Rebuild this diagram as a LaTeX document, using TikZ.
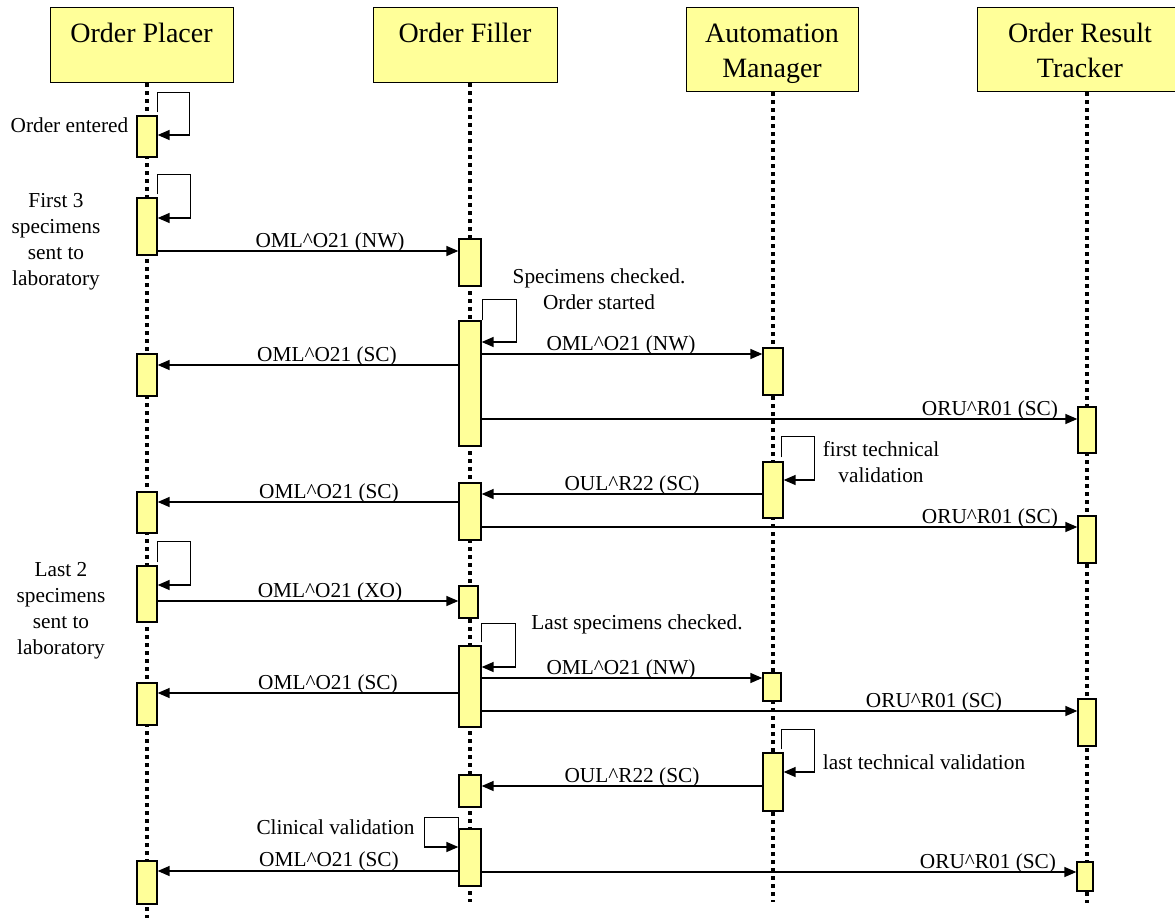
\documentclass[tikz,border=0pt]{standalone}
\usepackage{fontspec}
\setmainfont{Liberation Serif}
\usetikzlibrary{arrows.meta}
\definecolor{yel}{HTML}{FFFF99}
\begin{document}
\begin{tikzpicture}[x=1pt,y=-1pt,
  hdr/.style={draw=black, line width=1.3pt, fill=yel, inner sep=0pt, anchor=north west},
  hdrtext/.style={font=\fontsize{28pt}{35pt}\selectfont, align=center, anchor=base, inner sep=0pt},
  act/.style={draw=black, line width=1.3pt, fill=yel, inner sep=0pt, minimum width=20pt},
  life/.style={line width=3.5pt, dash pattern=on 4pt off 4pt},
  msg/.style={line width=1.4pt, -{Triangle[length=12pt,width=10pt]}},
  lbl/.style={font=\fontsize{21.3pt}{26pt}\selectfont, align=center, anchor=base, inner sep=0pt}
]
\useasboundingbox (0,0) rectangle (1175,918);

% headers
\node[hdr, minimum width=183pt, minimum height=75pt] (op) at (50,7) {};
\node[hdrtext] (opt) at (141.5,42) {Order Placer};
\node[hdr, minimum width=184pt, minimum height=75pt] (of) at (373,7) {};
\node[hdrtext] (oft) at (465,42) {Order Filler};
\node[hdr, minimum width=172pt, minimum height=84pt] (am) at (686,7) {};
\node[hdrtext] (amt) at (772,77) {Automation\\Manager};
\node[hdr, minimum width=206pt, minimum height=84pt] (ort) at (977,7) {};
\node[hdrtext] (ortt) at (1080,77) {Order Result\\Tracker};

% lifeline anchors
\coordinate (pl) at (147,918);
\coordinate (fl) at (470,902);
\coordinate (ml) at (773,902);
\coordinate (rl) at (1087,903);
\draw[life] (op.south -| pl) -- (pl);
\draw[life] (of.south -| fl) -- (fl);
\draw[life] (am.south -| ml) -- (ml);
\draw[life] (ort.south -| rl) -- (rl);

% activation boxes: Order Placer
\node[act, minimum height=41pt] (p1) at (147,136.5) {};
\node[act, minimum height=57pt] (p2) at (147,226.5) {};
\node[act, minimum height=42pt] (p3) at (147,375) {};
\node[act, minimum height=41pt] (p4) at (147,512.5) {};
\node[act, minimum height=56pt] (p5) at (147,594) {};
\node[act, minimum height=42pt] (p6) at (147,704) {};
\node[act, minimum height=43pt] (p7) at (147,882.5) {};
% Order Filler
\node[act, minimum width=22pt, minimum height=47pt] (f1) at (470,262.5) {};
\node[act, minimum width=22pt, minimum height=125pt] (f2) at (470,383.5) {};
\node[act, minimum width=22pt, minimum height=57pt] (f3) at (470,511.5) {};
\node[act, minimum width=19pt, minimum height=32pt] (f4) at (468.5,602) {};
\node[act, minimum width=22pt, minimum height=81pt] (f5) at (470,686.5) {};
\node[act, minimum width=22pt, minimum height=32pt] (f6) at (470,791) {};
\node[act, minimum width=22pt, minimum height=57pt] (f7) at (470,857.5) {};
% Automation Manager
\node[act, minimum height=47pt] (m1) at (773,371.5) {};
\node[act, minimum height=56pt] (m2) at (773,490) {};
\node[act, minimum width=18pt, minimum height=28pt] (m3) at (772,687) {};
\node[act, minimum height=58pt] (m4) at (773,782) {};
% Order Result Tracker
\node[act, minimum width=18pt, minimum height=46pt] (r1) at (1087,430) {};
\node[act, minimum width=18pt, minimum height=47pt] (r2) at (1087,539.5) {};
\node[act, minimum width=18pt, minimum height=47pt] (r3) at (1087,722.5) {};
\node[act, minimum width=16pt, minimum height=29pt] (r4) at (1085,876.5) {};

% self messages
\draw[msg] ([yshift=3pt]p1.north east) -- ++(0,-20) -- ++(32,0) |- (p1.east |- 0,135);
\draw[msg] ([yshift=3pt]p2.north east) -- ++(0,-20) -- ++(33,0) |- (p2.east |- 0,218);
\draw[msg] ([xshift=1pt]f2.north east) -- ++(0,-21) -- ++(34,0) |- (f2.east |- 0,342);
\draw[msg] ([xshift=-2pt,yshift=4pt]m2.north east) -- ++(0,-21) -- ++(33,0) |- (m2.east |- 0,480);
\draw[msg] ([yshift=3pt]p5.north east) -- ++(0,-21) -- ++(33,0) |- (p5.east |- 0,585);
\draw[msg] ([yshift=3pt]f5.north east) -- ++(0,-19) -- ++(34,0) |- (f5.east |- 0,667);
\draw[msg] ([xshift=-2pt,yshift=3pt]m4.north east) -- ++(0,-20) -- ++(33,0) |- (m4.east |- 0,772);
\draw[msg] (f7.north west) -- ++(0,-11) -- ++(-34,0) |- (f7.west |- 0,847);

% messages
\draw[msg] (p2.east |- 0,251) -- (f1.west |- 0,251);
\draw[msg] (f2.east |- 0,354) -- (m1.west |- 0,354);
\draw[msg] (f2.west |- 0,365) -- (p3.east |- 0,365);
\draw[msg] (f2.east |- 0,419) -- (r1.west |- 0,419);
\draw[msg] (m2.west |- 0,494) -- (f3.east |- 0,494);
\draw[msg] (f3.west |- 0,502) -- (p4.east |- 0,502);
\draw[msg] (f3.east |- 0,527) -- (r2.west |- 0,527);
\draw[msg] (p5.east |- 0,601) -- (f4.west |- 0,601);
\draw[msg] (f5.east |- 0,678) -- (m3.west |- 0,678);
\draw[msg] (f5.west |- 0,693) -- (p6.east |- 0,693);
\draw[msg] (f5.east |- 0,711) -- (r3.west |- 0,711);
\draw[msg] (m4.west |- 0,786) -- (f6.east |- 0,786);
\draw[msg] (f7.west |- 0,871) -- (p7.east |- 0,871);
\draw[msg] (f7.east |- 0,872) -- (r4.west |- 0,872);

% message labels
\node[lbl] (l1) at (330,247) {OML\textasciicircum O21 (NW)};
\node[lbl] (l2) at (621,350) {OML\textasciicircum O21 (NW)};
\node[lbl] (l3) at (327,361) {OML\textasciicircum O21 (SC)};
\node[lbl] (l4) at (990,415) {ORU\textasciicircum R01 (SC)};
\node[lbl] (l5) at (632,490) {OUL\textasciicircum R22 (SC)};
\node[lbl] (l6) at (329,498) {OML\textasciicircum O21 (SC)};
\node[lbl] (l7) at (990,523) {ORU\textasciicircum R01 (SC)};
\node[lbl] (l8) at (330,597) {OML\textasciicircum O21 (XO)};
\node[lbl] (l9) at (621,674) {OML\textasciicircum O21 (NW)};
\node[lbl] (l10) at (328,689) {OML\textasciicircum O21 (SC)};
\node[lbl] (l11) at (934,707) {ORU\textasciicircum R01 (SC)};
\node[lbl] (l12) at (632,782) {OUL\textasciicircum R22 (SC)};
\node[lbl] (l13) at (329,866) {OML\textasciicircum O21 (SC)};
\node[lbl] (l14) at (988,868) {ORU\textasciicircum R01 (SC)};

% notes (anchor=base is the last line's baseline)
\node[lbl] (n1) at (69.5,132) {Order entered};
\node[lbl] (n2) at (56,285) {First 3\\specimens\\sent to\\laboratory};
\node[lbl] (n3) at (599,309) {Specimens checked.\\Order started};
\node[lbl] (n4) at (881,482) {first technical\\validation};
\node[lbl] (n5) at (61,654) {Last 2\\specimens\\sent to\\laboratory};
\node[lbl] (n6) at (637,629) {Last specimens checked.};
\node[lbl] (n7) at (924,769) {last technical validation};
\node[lbl] (n8) at (335.5,834) {Clinical validation};
\end{tikzpicture}
\end{document}
